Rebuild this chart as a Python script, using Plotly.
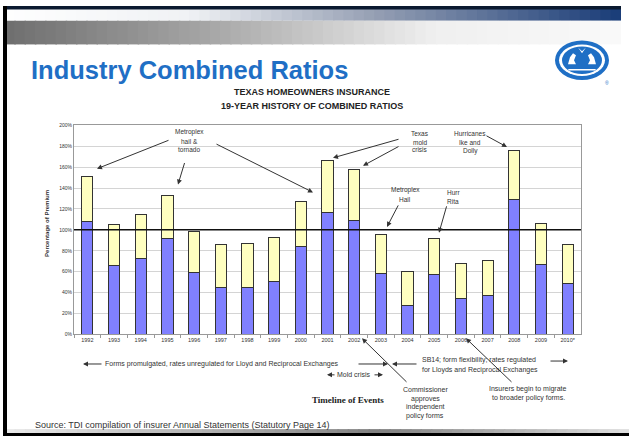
import plotly.graph_objects as go
import numpy as np

# ---------------- data ----------------
years = ["1992", "1993", "1994", "1995", "1996", "1997", "1998", "1999", "2000", "2001",
         "2002", "2003", "2004", "2005", "2006", "2007", "2008", "2009", "2010*"]
loss_ratio = [108, 66, 73, 92, 59, 45, 45, 51, 84, 117, 109, 58, 28, 57, 34, 37, 129, 67, 49]
expense_ratio = [43, 39, 42, 41, 39, 41, 42, 42, 43, 49, 49, 38, 32, 35, 34, 34, 47, 39, 37]
y_ticks = [0, 20, 40, 60, 80, 100, 120, 140, 160, 180, 200]

W, H = 629, 439
FONT = "Liberation Sans, Arial, sans-serif"


def px(x):
    return x / W


def py(y):
    return 1 - y / H


fig = go.Figure()
fig.add_trace(go.Bar(x=years, y=loss_ratio, name="Loss",
                     marker=dict(color="#8080ff", line=dict(color="#333333", width=1))))
fig.add_trace(go.Bar(x=years, y=expense_ratio, name="Expense",
                     marker=dict(color="#ffffc0", line=dict(color="#333333", width=1))))

shapes = []
annotations = []


def hgrad(x0, x1, y0, y1, stops, n=60):
    xs = np.linspace(x0, x1, n + 1)
    sp = np.array([s[0] for s in stops])
    cols = np.array([s[1] for s in stops], dtype=float)
    for i in range(n):
        t = (i + 0.5) / n
        c = [np.interp(t, sp, cols[:, k]) for k in range(3)]
        shapes.append(dict(type="rect", xref="paper", yref="paper",
                           x0=px(xs[i]), x1=px(min(xs[i + 1] + 1.5, x1)), y0=py(y1), y1=py(y0),
                           fillcolor="rgb(%d,%d,%d)" % tuple(int(v) for v in c),
                           line=dict(width=0), layer="below"))


# slide chrome
hgrad(4, 621, 6, 18, [(0, (255, 255, 255)), (0.3, (240, 242, 245)), (0.6, (150, 160, 180)), (1, (25, 60, 120))])
hgrad(4, 621, 18, 42, [(0, (110, 110, 110)), (0.35, (170, 170, 170)), (0.7, (240, 240, 240)), (1, (250, 250, 250))])
hgrad(4, 629, 432, 436, [(0, (235, 235, 235)), (0.6, (128, 128, 128)), (1, (225, 225, 225))])
shapes.append(dict(type="rect", xref="paper", yref="paper", x0=px(4), x1=px(621), y0=py(6.5), y1=py(3),
                   fillcolor="#0b1a30", line=dict(width=0)))
shapes.append(dict(type="rect", xref="paper", yref="paper", x0=px(3), x1=px(7), y0=py(439), y1=py(3),
                   fillcolor="#000000", line=dict(width=0)))
shapes.append(dict(type="rect", xref="paper", yref="paper", x0=px(4), x1=px(629), y0=py(439), y1=py(436),
                   fillcolor="#000000", line=dict(width=0)))

# logo
BL = "#1f6fc5"


def ell(x0, y0, x1, y1, color):
    shapes.append(dict(type="circle", xref="paper", yref="paper", x0=px(x0), x1=px(x1), y0=py(y1), y1=py(y0),
                       fillcolor=color, line=dict(width=0)))


def path(pts, color):
    d = "M " + " L ".join("%.4f,%.4f" % (px(a), py(b)) for a, b in pts) + " Z"
    shapes.append(dict(type="path", xref="paper", yref="paper", path=d, fillcolor=color, line=dict(width=0)))


ell(555, 38, 609, 78, BL)
ell(559, 42, 605, 74, "white")
ell(562, 44, 602, 72, BL)
path([(568, 62), (570, 55), (573, 51), (576, 53), (574, 58), (576, 62)], "white")
path([(596, 62), (594, 55), (591, 51), (588, 53), (590, 58), (588, 62)], "white")
path([(578, 45), (582, 49), (586, 45), (584, 48), (582, 51), (580, 48)], "white")
path([(568, 67), (596, 67), (595, 68.5), (569, 68.5)], "white")
text_logo = dict(xref="paper", yref="paper", x=px(611), y=py(76), text="®", showarrow=False,
                 font=dict(size=5, color=BL))

# 100% line
shapes.append(dict(type="line", xref="paper", yref="y", x0=px(74), x1=px(581), y0=100, y1=100,
                   line=dict(color="#111111", width=1.5)))


def text(lines, x, ys, size=6.5, color="#333333", bold=False, family=FONT, anchor="center"):
    for t, y in zip(lines, ys):
        annotations.append(dict(xref="paper", yref="paper", x=px(x), y=py(y), text=("<b>%s</b>" % t) if bold else t,
                                showarrow=False, xanchor=anchor, yanchor="middle",
                                font=dict(family=family, size=size, color=color)))


def arrow(tail, head, color="#333333", width=1, size=1):
    annotations.append(dict(xref="paper", yref="paper", x=px(head[0]), y=py(head[1]),
                            ax=tail[0] - head[0], ay=tail[1] - head[1], axref="pixel", ayref="pixel",
                            text="", showarrow=True, arrowhead=2, arrowsize=size, arrowwidth=width,
                            arrowcolor=color))


annotations.append(text_logo)

# titles
text(["Industry Combined Ratios"], 29, [68], size=25.5, color=BL, bold=True, anchor="left")
text(["TEXAS HOMEOWNERS INSURANCE", "19-YEAR HISTORY OF COMBINED RATIOS"], 312, [90, 104], size=9,
     color="#222222", bold=True)
annotations.append(dict(xref="paper", yref="paper", x=px(42), y=py(224), text="<b>Percentage of Premium</b>",
                        textangle=-90, showarrow=False, font=dict(family=FONT, size=6, color="#333333")))

# chart annotations
text(["Metroplex", "hail &", "tornado"], 189, [131, 140, 149])
arrow((170, 139), (97, 168))
arrow((185, 161), (178, 184))
arrow((215, 143), (313, 192))
text(["Texas", "mold", "crisis"], 420, [132, 141, 149])
arrow((400, 138), (333, 157))
arrow((400, 145), (363, 165))
text(["Hurricanes", "Ike and", "Dolly"], 470, [132, 141, 150])
arrow((485, 134), (507, 146))
text(["Metroplex", "Hail"], 405, [190, 199])
arrow((399, 204), (387, 227))
text(["Hurr", "Rita"], 453, [192, 201])
arrow((447, 205), (439, 233))

# timeline
text(["Forms promulgated, rates unregulated for Lloyd and Reciprocal Exchanges"], 103, [366], size=7, anchor="left")
arrow((103, 366), (83, 366))
arrow((357, 366), (388, 366))
arrow((418, 366), (392, 366))
text(["SB14; form flexibility; rates regulated", "for Lloyds and Reciprocal Exchanges"], 420, [362, 372],
     size=7, anchor="left")
arrow((549, 363), (568, 363))
text(["Mold crisis"], 354, [377], size=7)
arrow((336, 377), (327, 377))
arrow((373, 377), (383, 377))
text(["Timeline of Events"], 348, [402], size=9, color="#222222", bold=True,
     family="Liberation Serif, Times New Roman, serif")
text(["Commissioner", "approves", "independent", "policy forms"], 425, [392, 401, 410, 419], size=7)
arrow((408, 385), (362, 340))
text(["Insurers begin to migrate", "to broader policy forms."], 528, [391, 400], size=7)
arrow((513, 385), (466, 340))

text(["Source: TDI compilation of insurer Annual Statements (Statutory Page 14)"], 33, [428], size=9,
     color="#333333", anchor="left")

fig.update_layout(
    width=W, height=H, margin=dict(l=0, r=0, t=0, b=0),
    paper_bgcolor="white", plot_bgcolor="white",
    barmode="stack", bargap=0.58, showlegend=False,
    shapes=shapes, annotations=annotations,
    font=dict(family=FONT),
    xaxis=dict(domain=[px(74), px(581)], showline=True, linecolor="#999999", mirror=True,
               ticks="outside", ticklen=3, tickcolor="#999999", tickson="boundaries",
               tickfont=dict(size=5.5, color="#333333")),
    yaxis=dict(domain=[py(336), py(124)], range=[0, 200], tickvals=y_ticks,
               ticktext=["%d%%" % v for v in y_ticks], showgrid=True, gridcolor="#d4d4d4",
               showline=True, linecolor="#999999", mirror=True, zeroline=False,
               tickfont=dict(size=5, color="#333333")),
)

fig.write_html("out.html", config={"displayModeBar": False},
               post_script="document.body.style.margin='0';document.body.style.overflow='hidden';")
